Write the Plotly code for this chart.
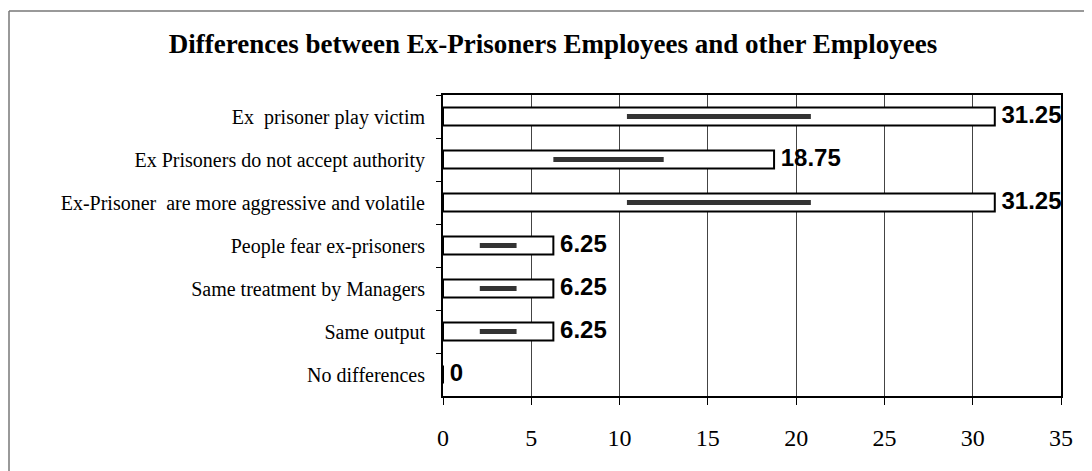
import plotly.graph_objects as go

# ---- data ----
categories = [
    "Ex  prisoner play victim",
    "Ex Prisoners do not accept authority",
    "Ex-Prisoner  are more aggressive and volatile",
    "People fear ex-prisoners",
    "Same treatment by Managers",
    "Same output",
    "No differences",
]
values = [31.25, 18.75, 31.25, 6.25, 6.25, 6.25, 0]
value_labels = ["31.25", "18.75", "31.25", "6.25", "6.25", "6.25", "0"]
x_ticks = [0, 5, 10, 15, 20, 25, 30, 35]
title_text = "Differences between Ex-Prisoners Employees and other Employees"

SERIF = "Times New Roman, Liberation Serif, serif"
SANS = "Arial, Liberation Sans, sans-serif"

# the page body adds an 8px offset; figure is sized to fill the rest
W, H = 1084, 463
L, R, T, B = 435, 31, 87, 75
PW, PH = W - L - R, H - T - B

fig = go.Figure()

# main bars: white with black outline
fig.add_trace(go.Bar(
    y=categories, x=values, orientation="h",
    marker=dict(color="white", line=dict(color="black", width=2)),
    width=0.42, showlegend=False, hoverinfo="skip",
))

# dark scan-like stroke inside each bar (middle third of the bar)
fig.add_trace(go.Bar(
    y=categories, x=[v / 3 for v in values], base=[v / 3 for v in values],
    orientation="h",
    marker=dict(color="#333333", line=dict(width=0)),
    width=0.12, showlegend=False, hoverinfo="skip",
))

# value labels
fig.add_trace(go.Scatter(
    y=categories, x=values, mode="text",
    text=[" " + t for t in value_labels],
    textposition="middle right",
    textfont=dict(family=SANS, size=24, color="black", weight="bold"),
    cliponaxis=False, showlegend=False, hoverinfo="skip",
))

fig.update_layout(
    width=W, height=H,
    margin=dict(l=L, r=R, t=T, b=B, autoexpand=False),
    paper_bgcolor="white", plot_bgcolor="white",
    barmode="overlay",
    title=dict(
        text="<b>" + title_text + "</b>",
        x=(553 - 8) / W, xref="container", xanchor="center",
        y=1 - (44 - 8) / H, yref="container", yanchor="middle",
        font=dict(family=SERIF, size=27, color="black"),
    ),
    xaxis=dict(
        range=[0, 35], tickvals=x_ticks, ticktext=[str(t) for t in x_ticks],
        showgrid=True, gridcolor="#444444", gridwidth=1,
        showline=True, linecolor="black", linewidth=2, mirror=True,
        ticks="outside", ticklen=7, tickcolor="black", tickwidth=1,
        tickfont=dict(family=SERIF, size=24, color="black"),
        ticklabelstandoff=12, zeroline=False, fixedrange=True,
    ),
    yaxis=dict(
        categoryorder="array", categoryarray=categories,
        autorange="reversed", type="category",
        showgrid=False,
        showline=True, linecolor="black", linewidth=2, mirror=True,
        ticks="outside", ticklen=5, tickcolor="black", tickwidth=1,
        tickson="boundaries",
        tickfont=dict(family=SERIF, size=20, color="black"),
        ticklabelstandoff=12, fixedrange=True,
    ),
    shapes=[
        # outer frame (left and top edges visible)
        dict(type="line", xref="paper", yref="paper",
             x0=(1 - L) / PW, x1=(1 - L) / PW,
             y0=(PH + T - 3) / PH, y1=-B / PH,
             line=dict(color="#777777", width=1.5)),
        dict(type="line", xref="paper", yref="paper",
             x0=(1 - L) / PW, x1=(W - L) / PW,
             y0=(PH + T - 3) / PH, y1=(PH + T - 3) / PH,
             line=dict(color="#777777", width=1.5)),
    ],
)

fig.write_html("out.html")
